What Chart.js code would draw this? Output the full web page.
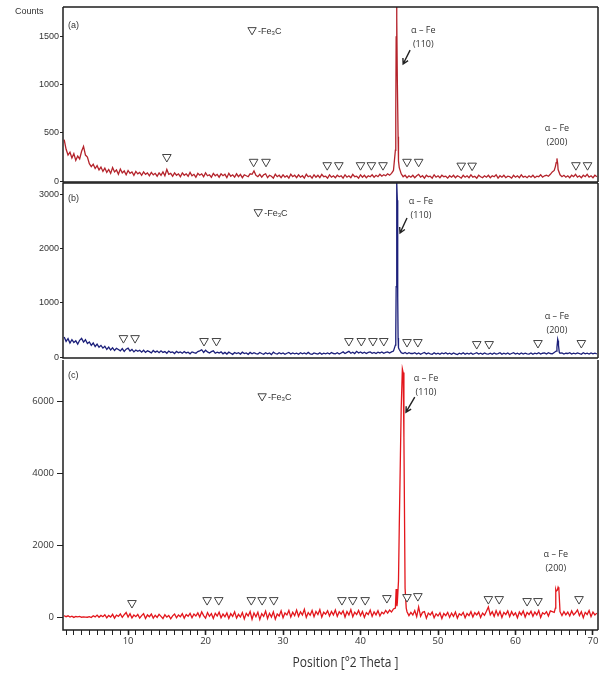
<!DOCTYPE html>
<html>
<head>
<meta charset="utf-8">
<script src="https://cdn.jsdelivr.net/npm/chart.js@4.4.1/dist/chart.umd.min.js"></script>
<style>
  html, body { margin: 0; padding: 0; background: #fff; }
  #wrap { position: relative; width: 605px; height: 682px; overflow: hidden; }
  .box { position: absolute; left: 0; width: 605px; }
  #boxA { top: 0; height: 190px; }
  #boxB { top: 182px; height: 184px; }
  #boxC { top: 358px; height: 324px; }
</style>
</head>
<body>
<div id="wrap">
  <div class="box" id="boxA"><canvas id="chartA"></canvas></div>
  <div class="box" id="boxB"><canvas id="chartB"></canvas></div>
  <div class="box" id="boxC"><canvas id="chartC"></canvas></div>
</div>
<script>
// scan grid: 1.75 .. 70.5 deg 2theta, 0.25 deg step
const startDeg = 1.75;
const stepDeg = 0.25;

// (a) counts
const cntA = [
  430, 330, 270, 300, 240, 285, 215, 260, 230, 310, 360, 270, 250, 180, 150, 175, 130, 160, 115, 145,
  100, 135, 90, 120, 80, 140, 95, 115, 70, 125, 85, 105, 65, 110, 80, 95, 60, 100, 75, 90,
  60, 95, 70, 85, 55, 90, 65, 80, 50, 85, 60, 95, 55, 120, 70, 80, 50, 85, 60, 75,
  45, 85, 60, 75, 50, 90, 55, 70, 40, 80, 60, 75, 45, 85, 55, 65, 40, 80, 55, 70,
  40, 75, 55, 70, 35, 80, 50, 65, 40, 75, 45, 70, 35, 65, 55, 45, 75, 70, 105, 60,
  45, 70, 40, 65, 75, 35, 60, 50, 30, 70, 45, 60, 35, 65, 40, 55, 30, 70, 45, 60,
  35, 65, 40, 55, 30, 70, 45, 55, 30, 65, 40, 60, 35, 70, 45, 50, 30, 65, 40, 55,
  35, 60, 45, 55, 30, 65, 40, 55, 35, 70, 45, 50, 30, 65, 40, 60, 35, 55, 45, 65,
  40, 60, 45, 70, 50, 65, 55, 75, 60, 80, 110, 320, 1050, 140, 75, 45, 60, 35, 55, 40,
  60, 35, 55, 70, 40, 55, 30, 60, 45, 50, 30, 65, 40, 55, 35, 60, 45, 50, 30, 55,
  40, 60, 35, 55, 45, 30, 60, 40, 55, 35, 65, 40, 50, 30, 60, 45, 35, 55, 40, 60,
  35, 55, 45, 65, 30, 55, 40, 60, 35, 50, 45, 30, 60, 40, 55, 35, 65, 40, 50, 35,
  55, 40, 60, 35, 50, 45, 65, 40, 55, 60, 50, 70, 95, 110, 190, 120, 65, 45, 60, 40,
  55, 35, 60, 45, 70, 40, 55, 35, 60, 45, 70, 40, 55, 35, 60, 45
];
const peakPosA = [44.55, 44.6, 44.65, 44.7, 44.85, 44.9, 65.15, 65.35, 65.45];
const peakCntA = [720, 1500, 1810, 1700, 460, 210, 150, 235, 180];

// (b) counts
const cntB = [
  370, 290, 340, 260, 320, 270, 300, 240, 310, 345, 275, 320, 250, 280, 215, 260, 195, 240, 180, 215,
  165, 200, 140, 185, 130, 170, 120, 160, 140, 115, 155, 105, 145, 165, 110, 140, 95, 130, 105, 125,
  90, 125, 85, 115, 100, 75, 120, 90, 110, 80, 115, 85, 100, 70, 110, 85, 95, 65, 105, 80,
  95, 70, 100, 75, 90, 60, 95, 80, 70, 100, 115, 135, 85, 125, 95, 75, 100, 115, 70, 90,
  75, 95, 60, 85, 55, 90, 70, 50, 85, 65, 80, 55, 90, 65, 75, 50, 85, 60, 80, 65,
  55, 85, 65, 50, 80, 60, 75, 45, 90, 65, 55, 80, 60, 75, 50, 70, 85, 55, 75, 60,
  70, 50, 80, 60, 75, 55, 85, 60, 50, 75, 65, 55, 80, 50, 70, 60, 75, 55, 85, 65,
  60, 80, 55, 75, 95, 65, 85, 105, 70, 90, 65, 105, 75, 95, 70, 90, 65, 85, 95, 70,
  85, 65, 90, 75, 95, 70, 85, 95, 75, 95, 110, 220, 2900, 140, 80, 65, 85, 60, 80, 65,
  65, 80, 55, 75, 50, 70, 85, 55, 75, 60, 50, 80, 55, 70, 50, 75, 60, 80, 55, 70,
  50, 75, 60, 45, 70, 55, 80, 50, 70, 55, 75, 50, 65, 80, 55, 70, 50, 75, 60, 55,
  70, 50, 75, 55, 65, 80, 50, 70, 55, 75, 50, 65, 80, 55, 70, 50, 75, 55, 70, 60,
  55, 75, 50, 70, 60, 80, 55, 70, 75, 55, 80, 65, 60, 85, 110, 300, 70, 75, 55, 70,
  65, 80, 55, 70, 60, 75, 65, 50, 80, 60, 70, 55, 75, 60, 70, 60
];
const peakPosB = [44.55, 44.6, 44.65, 44.7, 44.8, 44.85, 44.9, 65.35, 65.45, 65.55, 65.65];
const peakCntB = [420, 1300, 2400, 3220, 1100, 350, 170, 180, 330, 220, 90];

// (c) counts
const cntC = [
  40, 10, 35, 0, 25, -10, 15, 5, 20, -5, 5, 0, -5, 10, -15, 35, 5, 55, -5, 45,
  10, 65, -20, 45, 0, 75, -30, 55, 20, 85, -10, 65, 125, 0, 95, -25, 55, 10, 75, -30,
  40, 95, -40, 60, 10, 85, -30, 50, -10, 75, 20, -40, 65, 0, 45, -50, 35, 85, -20, 60,
  10, 95, -30, 70, 20, 105, -20, 85, 30, 115, 0, 145, 40, -30, 125, 20, 95, -40, 105, 30,
  135, -20, 85, 10, 115, -40, 95, 20, 145, -30, 75, 0, 125, -50, 105, 30, 155, -60, 115, 10,
  135, -70, 95, 20, 165, -40, 105, 0, 145, -60, 85, 30, 175, -20, 115, 60, 185, 0, 135, 40,
  195, 20, 145, 60, 215, -10, 125, 50, 185, 10, 155, 70, 205, 0, 135, 80, 175, 30, 155, 60,
  195, 20, 145, 80, 175, 0, 155, 60, 205, 10, 135, 70, 185, 40, 155, -10, 125, 70, 195, 20,
  145, 60, 175, 30, 135, 90, 185, 110, 195, 140, 225, 250, 400, 2500, 5800, 6800, 800, 150, 40, 130,
  60, 180, 10, 280, 20, 130, 150, -30, 110, 60, 140, -20, 90, 30, 120, -40, 100, 40, 130, -10,
  110, 20, 140, -30, 90, 50, 130, -20, 100, 40, 150, 0, 120, 60, 140, -10, 110, 50, 160, 280,
  60, 150, 20, 180, 40, 160, -10, 130, 70, 170, 10, 150, 50, 120, -20, 140, 60, 170, 0, 130,
  70, 160, 20, 140, 60, 180, -10, 120, 80, 150, 30, 170, 150, 130, 720, 830, 150, 40, 150, 60,
  140, 30, 170, 60, 120, 200, 40, 150, -20, 130, 70, 180, 10, 140, 60, 110
];
const peakPosC = [44.6, 44.7, 44.9, 45.15, 45.4, 45.6, 45.9, 65.15, 65.2, 65.4, 65.6];
const peakCntC = [780, 300, 1000, 4500, 6900, 5000, 250, 250, 760, 750, 780];

// Fe3C reflections (marker positions)
const triPosA = [15.0, 26.2, 27.8, 35.7, 37.2, 40.0, 41.4, 42.9, 46.0, 47.5, 53.0, 54.4, 67.8, 69.3];
const triCntA = [250, 200, 200, 165, 165, 165, 165, 165, 200, 200, 160, 160, 165, 165];
const triPosB = [9.4, 10.9, 19.8, 21.4, 38.5, 40.1, 41.6, 43.0, 46.0, 47.4, 55.0, 56.6, 62.9, 68.5];
const triCntB = [350, 350, 296, 296, 296, 296, 296, 296, 277, 277, 240, 240, 259, 259];
const triPosC = [10.5, 20.2, 21.7, 25.9, 27.3, 28.8, 37.6, 39.0, 40.6, 43.4, 46.0, 47.4, 56.5, 57.9, 61.5, 62.9, 68.2];
const triCntC = [390, 472, 472, 472, 472, 472, 472, 472, 472, 528, 556, 583, 500, 500, 445, 445, 500];

const yTicksA = [0, 500, 1000, 1500];
const yTicksB = [0, 1000, 2000, 3000];
const yTicksC = [0, 2000, 4000, 6000];
const xTickLabels = [10, 20, 30, 40, 50, 60, 70];

function series(counts, extraPos, extraCnt) {
  const pts = counts.map((c, i) => ({ x: startDeg + i * stepDeg, y: c }));
  extraPos.forEach((p, i) => pts.push({ x: p, y: extraCnt[i] }));
  return pts.sort((a, b) => a.x - b.x);
}
function markers(pos, cnt) {
  return pos.map((p, i) => ({ x: p, y: cnt[i] }));
}

function drawTri(ctx, cx, cy, r) {
  ctx.beginPath();
  ctx.moveTo(cx - r * 0.87, cy - r * 0.5);
  ctx.lineTo(cx + r * 0.87, cy - r * 0.5);
  ctx.lineTo(cx, cy + r);
  ctx.closePath();
  ctx.fillStyle = '#fff';
  ctx.fill();
  ctx.strokeStyle = '#444';
  ctx.lineWidth = 1;
  ctx.stroke();
}

const notes = {
  id: 'notes',
  afterDraw(chart, args, o) {
    const ctx = chart.ctx, a = chart.chartArea;
    const xs = chart.scales.x, ys = chart.scales.y;
    ctx.save();
    // frame
    ctx.strokeStyle = '#1e1e1e';
    ctx.lineWidth = 1.5;
    ctx.beginPath();
    if (o.top) { ctx.moveTo(a.left, a.top); ctx.lineTo(a.right, a.top); }
    ctx.moveTo(a.left, a.top); ctx.lineTo(a.left, a.bottom); ctx.lineTo(a.right, a.bottom);
    ctx.moveTo(a.right, a.top); ctx.lineTo(a.right, a.bottom);
    ctx.stroke();

    ctx.fillStyle = '#333';
    ctx.textBaseline = 'middle';
    ctx.textAlign = 'left';
    ctx.font = '9px "Liberation Sans", Arial, sans-serif';
    ctx.fillText(o.tag, a.left + 5, a.top + o.tagDy);
    if (o.counts) ctx.fillText('Counts', 15, 12);

    // Fe3C key
    const fx = xs.getPixelForValue(o.fe3c[0]), fy = ys.getPixelForValue(o.fe3c[1]);
    drawTri(ctx, fx, fy - 1, 4.8);
    ctx.fillStyle = '#333';
    let tx = fx + 6;
    ctx.fillText('-Fe', tx, fy);
    tx += ctx.measureText('-Fe').width;
    ctx.font = '6px "Liberation Sans", Arial, sans-serif';
    ctx.fillText('3', tx, fy + 2);
    tx += ctx.measureText('3').width;
    ctx.font = '9px "Liberation Sans", Arial, sans-serif';
    ctx.fillText('C', tx, fy);

    // alpha-Fe labels
    ctx.font = '9px "Open Sans", sans-serif';
    ctx.textAlign = 'center';
    o.alpha.forEach(n => {
      const px = xs.getPixelForValue(n.x), py = ys.getPixelForValue(n.y);
      ctx.fillText('\u03b1 \u2013 Fe', px, py);
      ctx.fillText(n.hkl, px, py + 14);
    });

    // arrow to (110)
    const x1 = xs.getPixelForValue(o.arrow[0]), y1 = ys.getPixelForValue(o.arrow[1]);
    const x2 = xs.getPixelForValue(o.arrow[2]), y2 = ys.getPixelForValue(o.arrow[3]);
    const ang = Math.atan2(y2 - y1, x2 - x1);
    ctx.strokeStyle = '#222';
    ctx.lineWidth = 1.4;
    ctx.beginPath();
    ctx.moveTo(x1, y1); ctx.lineTo(x2, y2);
    ctx.moveTo(x2 - 6 * Math.cos(ang - 0.5), y2 - 6 * Math.sin(ang - 0.5));
    ctx.lineTo(x2, y2);
    ctx.lineTo(x2 - 6 * Math.cos(ang + 0.5), y2 - 6 * Math.sin(ang + 0.5));
    ctx.stroke();

    if (o.title) {
      ctx.font = '14px "Open Sans", sans-serif';
      ctx.fillStyle = '#333';
      const w = ctx.measureText(o.title).width;
      const cx = (a.left + a.right) / 2 + 15;
      ctx.translate(cx, chart.height - 19);
      ctx.scale(106 / w, 1);
      ctx.fillText(o.title, 0, 0);
    }
    ctx.restore();
  }
};

function panel(id, cfg) {
  const tickFont = cfg.xLabels
    ? { family: '"Open Sans", sans-serif', size: 9.5 }
    : { family: '"Liberation Sans", Arial, sans-serif', size: 9 };
  return new Chart(document.getElementById(id), {
    type: 'line',
    data: {
      datasets: [
        {
          data: markers(cfg.triPos, cfg.triCnt),
          showLine: false,
          pointStyle: 'triangle',
          pointRotation: 180,
          pointRadius: 5,
          pointBackgroundColor: '#fff',
          pointBorderColor: '#444',
          pointBorderWidth: 1
        },
        {
          data: series(cfg.counts, cfg.peakPos, cfg.peakCnt),
          borderColor: cfg.color,
          borderWidth: 1.3,
          pointRadius: 0,
          tension: 0
        }
      ]
    },
    options: {
      responsive: true,
      maintainAspectRatio: false,
      animation: false,
      events: [],
      layout: { padding: cfg.padding, autoPadding: false },
      plugins: { legend: { display: false }, tooltip: { enabled: false }, notes: cfg.notes },
      scales: {
        x: {
          type: 'linear',
          min: 1.6,
          max: 70.65,
          display: !!cfg.xLabels,
          afterBuildTicks: s => {
            const t = [];
            for (let v = 2; v <= 70; v++) t.push({ value: v });
            s.ticks = t;
          },
          afterFit: s => {
            if (cfg.xLabels) s.height = 52;
            s.paddingLeft = 0;
            s.paddingRight = 0;
          },
          ticks: {
            autoSkip: false,
            maxRotation: 0,
            padding: 1,
            color: '#333',
            font: tickFont,
            callback: v => xTickLabels.includes(v) ? String(v) : ''
          },
          grid: {
            drawOnChartArea: false,
            tickLength: 5,
            tickColor: '#222',
            tickWidth: c => (c.tick && c.tick.value % 10 === 0) ? 1.6 : 1
          },
          border: { display: false }
        },
        y: {
          type: 'linear',
          min: cfg.yMin,
          max: cfg.yMax,
          afterBuildTicks: s => { s.ticks = cfg.yTicks.map(v => ({ value: v })); },
          afterFit: s => {
            s.width = 63;
            s.paddingTop = 0;
            s.paddingBottom = 0;
          },
          ticks: {
            padding: cfg.xLabels ? 3 : 1,
            color: '#333',
            font: tickFont,
            callback: v => String(v)
          },
          grid: { drawOnChartArea: false, tickLength: cfg.xLabels ? 6 : 3, tickColor: '#222' },
          border: { display: false }
        }
      }
    },
    plugins: [notes]
  });
}

panel('chartA', {
  counts: cntA, peakPos: peakPosA, peakCnt: peakCntA,
  triPos: triPosA, triCnt: triCntA,
  color: '#b4232b', yMin: -10, yMax: 1810, yTicks: yTicksA,
  padding: { top: 7, bottom: 8, left: 0, right: 7 },
  notes: {
    top: true, tag: '(a)', tagDy: 19, counts: true,
    fe3c: [26.0, 1560],
    alpha: [{ x: 48.1, y: 1570, hkl: '(110)' }, { x: 65.35, y: 551, hkl: '(200)' }],
    arrow: [46.4, 1362, 45.5, 1217]
  }
});

panel('chartB', {
  counts: cntB, peakPos: peakPosB, peakCnt: peakCntB,
  triPos: triPosB, triCnt: triCntB,
  color: '#1b1f7a', yMin: -18, yMax: 3220, yTicks: yTicksB,
  padding: { top: 1, bottom: 8, left: 0, right: 7 },
  notes: {
    top: true, tag: '(b)', tagDy: 16,
    fe3c: [26.8, 2664],
    alpha: [{ x: 47.8, y: 2886, hkl: '(110)' }, { x: 65.35, y: 759, hkl: '(200)' }],
    arrow: [46.0, 2572, 45.1, 2294]
  }
});

panel('chartC', {
  counts: cntC, peakPos: peakPosC, peakCnt: peakCntC,
  triPos: triPosC, triCnt: triCntC,
  color: '#e3161c', yMin: -360, yMax: 7150, yTicks: yTicksC,
  xLabels: true,
  padding: { top: 2, bottom: 0, left: 0, right: 7 },
  notes: {
    top: false, tag: '(c)', tagDy: 16,
    fe3c: [27.3, 6116],
    alpha: [{ x: 48.45, y: 6644, hkl: '(110)' }, { x: 65.2, y: 1751, hkl: '(200)' }],
    arrow: [47.0, 6116, 45.87, 5699],
    title: 'Position [\u00b02 Theta ]'
  }
});
</script>
</body>
</html>
